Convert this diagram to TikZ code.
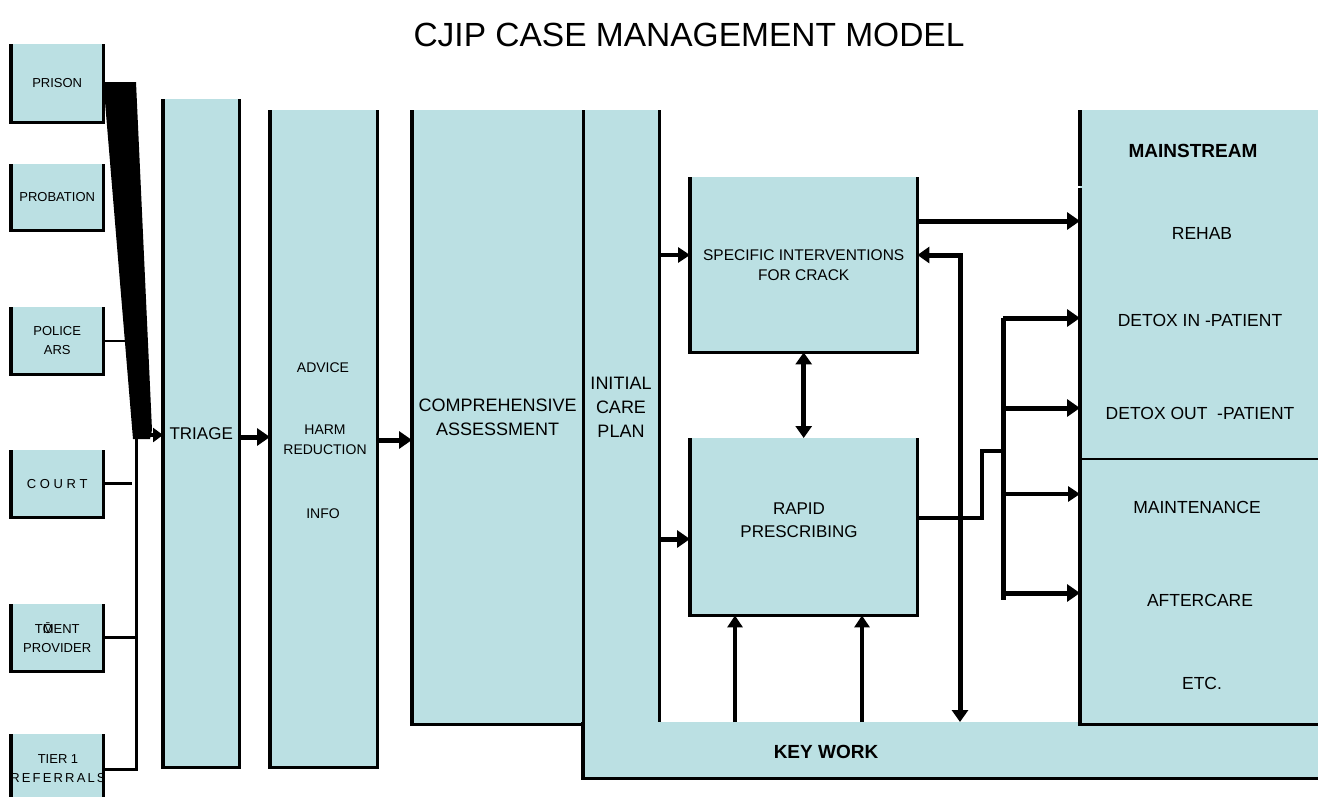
\documentclass[tikz,border=0pt]{standalone}
\usepackage{fontspec}
\setmainfont{Liberation Sans}
\usetikzlibrary{arrows.meta}
\definecolor{cjip}{RGB}{187,224,227}
\tikzset{
  panel/.style={fill=cjip, inner sep=0pt, anchor=north west, align=center},
  rim/.style={line width=3.2, line join=miter},
  lbl/.style={font=\fontsize{13}{19}\selectfont, align=center},
  mid/.style={font=\fontsize{14}{20}\selectfont, align=center},
  big/.style={font=\fontsize{17.5}{24}\selectfont, align=center},
  heavy/.style={font=\bfseries\fontsize{19}{23}\selectfont},
  feed/.style={line width=3},
  push/.style={-{Triangle[length=13pt,width=17pt]}, line width=5},
  nudge/.style={-{Triangle[length=12pt,width=15pt]}, line width=3.6},
  dual/.style={{Triangle[length=12pt,width=16pt]}-{Triangle[length=12pt,width=16pt]}, line width=5},
}
\begin{document}
\begin{tikzpicture}[x=1pt,y=-1pt]
\useasboundingbox (0,0) rectangle (1318,796);
\node[font=\fontsize{33.5}{38}\selectfont] (title) at (689,35) {CJIP CASE MANAGEMENT MODEL};
% referral sources
\node[panel,lbl,minimum width=92,minimum height=78] (prison) at (11,44) {PRISON};
\node[panel,lbl,minimum width=92,minimum height=66] (probation) at (11,164) {PROBATION};
\node[panel,lbl,minimum width=92,minimum height=67] (police) at (11,307) {POLICE\\ARS};
\node[panel,lbl,minimum width=92,minimum height=67] (court) at (11,450) {C O U R T};
\node[panel,lbl,minimum width=92,minimum height=67] (provider) at (11,604) {T\rlap{Ō}MENT\\PROVIDER};
\node[panel,minimum width=92,minimum height=70] (tier) at (11,734) {};
\node[lbl] (tierlbl) at (58,769) {TIER 1\\R\,E\,F\,E\,R\,R\,A\,L\,S};
% columns
\node[panel,minimum width=76,minimum height=668,font=\fontsize{17}{20}\selectfont] (triage) at (163,99) {TRIAGE};
\node[panel,minimum width=107,minimum height=657] (advice) at (270,110) {};
\node[panel,minimum width=171,minimum height=614,font=\fontsize{18}{24}\selectfont] (assess) at (412,110) {COMPREHENSIVE\\ASSESSMENT};
\node[panel,minimum width=76,minimum height=612] (plan) at (583,110) {};
\node[panel,minimum width=742,minimum height=56] (keywork) at (583,722) {};
\node[panel,minimum width=227,minimum height=175,font=\fontsize{15.5}{20}\selectfont] (specific) at (690,177) {SPECIFIC INTERVENTIONS\\FOR CRACK};
\node[panel,minimum width=227,minimum height=177] (rapid) at (690,438) {};
\node[panel,minimum width=245,minimum height=614] (mainstr) at (1080,110) {};
\foreach \n in {prison,probation,police,court,provider,tier,triage,advice,assess,specific,rapid}
  \draw[rim] (\n.north west) -- (\n.south west) -- (\n.south east) -- (\n.north east);
\draw[rim] (plan.north east) -- (plan.south east);
\draw[rim] (keywork.north west) -- (keywork.south west) -- (keywork.south east);
\draw[rim] (mainstr.north west) -- ++(0,76);
\draw[rim] (mainstr.north west) ++(0,78) -- (mainstr.south west) -- (mainstr.south east);
\draw[line width=1.3] (mainstr.west |- 0,459) -- (mainstr.east |- 0,459);
% labels
\node[mid] (advicelbl) at (323,368) {ADVICE};
\node[mid] (harmlbl) at (325,440) {HARM\\REDUCTION};
\node[mid] (infolbl) at (323,514) {INFO};
\node[font=\fontsize{18}{24}\selectfont,align=center] (planlbl) at (621,407) {INITIAL\\CARE\\PLAN};
\node[font=\fontsize{17}{23}\selectfont,align=center] (rapidlbl) at (799,520) {RAPID\\PRESCRIBING};
\node[heavy] (keylbl) at (826,752) {KEY WORK};
\node[heavy] (mainlbl) at (1193,151) {MAINSTREAM};
\node[big] (rehab) at (1202,233) {REHAB};
\node[big] (detoxin) at (1200,320) {DETOX IN -PATIENT};
\node[big] (detoxout) at (1200,413) {DETOX OUT\ \ -PATIENT};
\node[big] (maint) at (1197,507) {MAINTENANCE};
\node[big] (after) at (1200,600) {AFTERCARE};
\node[big] (etc) at (1202,683) {ETC.};
% feeds into triage
\coordinate (bus) at (136,437);
\draw[line width=2.4] (police.east) -- ++(26,0);
\draw[feed] (court.east) -- ++(29,0);
\draw[feed] (provider.east) -- (provider.east -| bus);
\draw[feed] (bus) -- (bus |- tierlbl) -- (tier.east |- tierlbl);
\fill (prison.east) ++(0,-1) -- (136,82) -- (152,430) -- (150,439) -- (133,439) -- cycle;
\draw[-{Triangle[length=10pt,width=14pt]}, line width=3.5] (148,435) -- (triage.west |- 0,435);
% main flow
\draw[push] (triage.east |- 0,437) -- (advice.west |- 0,437);
\draw[push] (advice.east |- 0,440) -- (assess.west |- 0,440);
\draw[nudge] (plan.east |- 0,255) -- (specific.west |- 0,255);
\draw[push] (plan.east |- 0,539) -- (rapid.west |- 0,539);
\draw[push] (specific.east |- 0,221) -- (mainstr.west |- 0,221);
\draw[dual] (specific.south) -- (rapid.north);
\coordinate (drop) at (960,255);
\draw[dual] (specific.east |- drop) -- (drop) -- (drop |- keywork.north);
\foreach \x in {735,862}
  \draw[nudge] (keywork.north -| \x,0) -- (rapid.south -| \x,0);
% rapid prescribing out to mainstream
\coordinate (fork) at (1003,318);
\draw[line width=3.2] (rapid.east |- 0,518) -| (982,451) -- (fork |- 0,451);
\draw[line width=5] (fork) -- (fork |- after);
\foreach \y/\w in {318/push,408/push,494/nudge,593/push}
  \draw[\w] (fork |- 0,\y) -- (mainstr.west |- 0,\y);
\end{tikzpicture}
\end{document}
